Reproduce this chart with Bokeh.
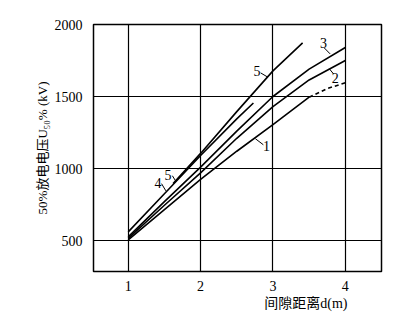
from bokeh.plotting import figure
from bokeh.models import Range1d, FixedTicker, Title
from bokeh.core.properties import value
from bokeh.embed import file_html
from bokeh.resources import INLINE

# ---- data ----
c1_d = [1.0, 1.5, 2.0, 2.5, 3.0, 3.5]
c1_u = [505, 715, 925, 1120, 1305, 1495]
c1_dash_d = [3.5, 3.75, 4.0]
c1_dash_u = [1495, 1555, 1595]
c2_d = [1.0, 1.5, 2.0, 2.5, 3.0, 3.5, 4.0]
c2_u = [515, 745, 970, 1210, 1430, 1615, 1750]
c3_d = [1.0, 1.5, 2.0, 2.5, 3.0, 3.5, 4.0]
c3_u = [525, 770, 1010, 1260, 1500, 1690, 1840]
c4_d = [1.0, 1.5, 2.0, 2.5, 2.73]
c4_u = [560, 825, 1090, 1345, 1455]
c5_d = [1.62, 2.0, 2.5, 3.0, 3.41]
c5_u = [895, 1105, 1395, 1678, 1872]

x_ticks = [1, 2, 3, 4]
y_ticks = [500, 1000, 1500, 2000]

lbl_text = ["1", "2", "3", "5", "5", "4"]
lbl_x = [2.91, 3.86, 3.70, 2.78, 1.55, 1.41]
lbl_y = [1158, 1630, 1872, 1678, 957, 902]
lead_x0 = [2.757, 3.78, 3.71, 2.83, 1.61, 1.46]
lead_y0 = [1207, 1692, 1837, 1664, 950, 895]
lead_x1 = [2.867, 3.835, 3.79, 2.92, 1.66, 1.52]
lead_y1 = [1165, 1658, 1796, 1637, 910, 845]

SERIF = "'Liberation Serif', 'Noto Sans CJK SC'"

p = figure(width=390, height=318, output_backend="svg", toolbar_location=None,
           x_range=Range1d(0.52, 4.5), y_range=Range1d(285, 2000),
           min_border_left=93, min_border_right=9, min_border_top=24, min_border_bottom=47)
p.background_fill_color = "white"
p.border_fill_color = "white"
p.outline_line_color = "black"
p.outline_line_width = 1.5

p.xaxis.ticker = FixedTicker(ticks=x_ticks)
p.yaxis.ticker = FixedTicker(ticks=y_ticks)
p.xgrid.ticker = FixedTicker(ticks=x_ticks)
p.ygrid.ticker = FixedTicker(ticks=y_ticks)
for g in (p.xgrid, p.ygrid):
    g.grid_line_color = "black"
    g.grid_line_alpha = 1.0
    g.grid_line_width = 1.2

for ax in (p.xaxis, p.yaxis):
    ax.axis_line_color = None
    ax.major_tick_line_color = None
    ax.minor_tick_line_color = None
    ax.major_label_text_font = SERIF
    ax.major_label_text_font_size = "14px"
    ax.major_label_text_color = "black"
    ax.major_label_standoff = 5
p.xaxis.major_label_standoff = 3

p.yaxis.axis_label = "50%放电电压U₅₀% (kV)"
p.yaxis.axis_label_text_font = SERIF
p.yaxis.axis_label_text_font_style = "normal"
p.yaxis.axis_label_text_font_size = "13px"
p.yaxis.axis_label_text_color = "black"
p.yaxis.axis_label_standoff = 2

lw = 1.6
p.line(c1_d, c1_u, line_color="black", line_width=lw)
p.line(c1_dash_d, c1_dash_u, line_color="black", line_width=lw, line_dash="4 3")
p.line(c2_d, c2_u, line_color="black", line_width=lw)
p.line(c3_d, c3_u, line_color="black", line_width=lw)
p.line(c4_d, c4_u, line_color="black", line_width=lw)
p.line(c5_d, c5_u, line_color="black", line_width=lw)

p.segment(x0=lead_x0, y0=lead_y0, x1=lead_x1, y1=lead_y1, line_color="black", line_width=1)
p.text(x=lbl_x, y=lbl_y, text=lbl_text, text_font=value("Liberation Serif"),
       text_font_size="14px", text_align="center", text_baseline="middle", text_color="black")

# x-axis title, right of centre as in the reference
p.add_layout(Title(text="间隙距离d(m)", align="right", offset=34, standoff=0,
                   text_font=SERIF, text_font_style="normal", text_font_size="14px",
                   text_color="black"), "below")

open("out.html", "w").write(file_html(p, INLINE))
